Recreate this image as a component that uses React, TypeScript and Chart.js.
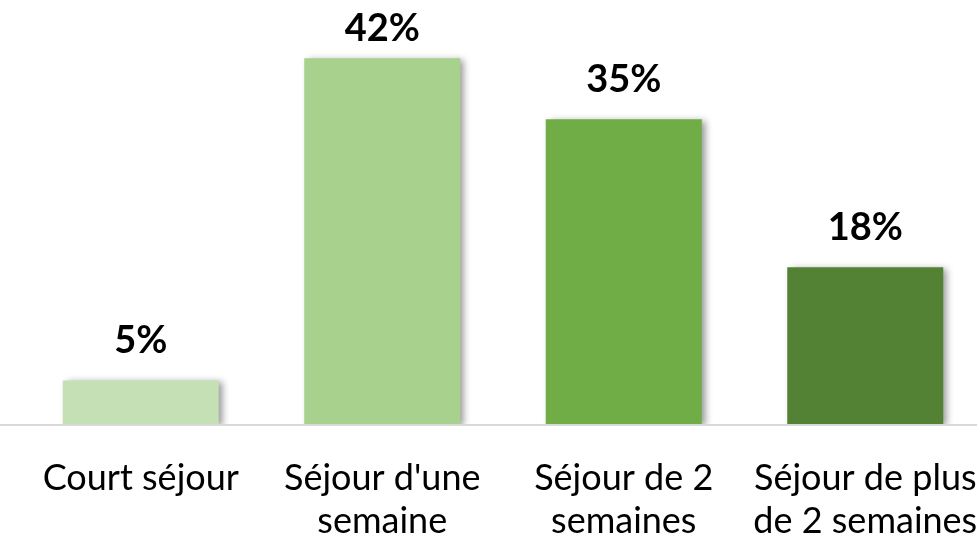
import React, { useEffect, useRef } from "react";
import { Chart, registerables } from "chart.js";

Chart.register(...registerables);

const categories: string[][] = [
  ["Court séjour"],
  ["Séjour d'une", "semaine"],
  ["Séjour de 2", "semaines"],
  ["Séjour de plus", "de 2 semaines"],
];
const values: number[] = [5, 42, 35, 18];
const barColors: string[] = ["#C5E0B4", "#A9D18E", "#70AD47", "#548235"];
const FONT = "Lato, 'Open Sans', sans-serif";

export default function App() {
  const ref = useRef<HTMLCanvasElement | null>(null);
  useEffect(() => {
    if (!ref.current) return;
    document.body.style.margin = "0";
    const shadowPlugin = {
      id: "barShadow",
      beforeDatasetsDraw(chart: any) {
        const ctx = chart.ctx;
        ctx.save();
        ctx.shadowColor = "rgba(0,0,0,0.4)";
        ctx.shadowBlur = 7;
        ctx.shadowOffsetX = 4;
        ctx.shadowOffsetY = 2;
      },
      afterDatasetsDraw(chart: any) {
        const ctx = chart.ctx;
        ctx.restore();
        const meta = chart.getDatasetMeta(0);
        ctx.save();
        ctx.font = `bold 38px ${FONT}`;
        ctx.fillStyle = "#000";
        ctx.textAlign = "center";
        ctx.textBaseline = "middle";
        meta.data.forEach((bar: any, i: number) => {
          const y = Math.max(bar.y - 40, 29);
          ctx.fillText(values[i] + "%", bar.x, y);
        });
        ctx.restore();
      },
    };
    const baselinePlugin = {
      id: "baseline",
      afterDraw(chart: any) {
        const ctx = chart.ctx;
        const y = chart.scales.y.getPixelForValue(0);
        ctx.save();
        ctx.strokeStyle = "#D9D9D9";
        ctx.lineWidth = 2;
        ctx.beginPath();
        ctx.moveTo(0, y + 1);
        ctx.lineTo(chart.width, y + 1);
        ctx.stroke();
        ctx.restore();
      },
    };
    const chart = new Chart(ref.current, {
      type: "bar",
      data: {
        labels: categories,
        datasets: [
          {
            data: values,
            backgroundColor: barColors,
            barPercentage: 0.646,
            categoryPercentage: 1,
          },
        ],
      },
      options: {
        animation: false,
        responsive: true,
        maintainAspectRatio: false,
        layout: { padding: { left: 20, right: 14, top: 0, bottom: 0 } },
        plugins: { legend: { display: false }, tooltip: { enabled: false } },
        scales: {
          y: { display: false, min: 0, max: 48.7 },
          x: {
            grid: { display: false },
            border: { display: false },
            afterFit(scale: any) {
              scale.height = 114;
              scale.paddingLeft = 0;
              scale.paddingRight = 0;
            },
            ticks: {
              color: "#000",
              autoSkip: false,
              maxRotation: 0,
              minRotation: 0,
              padding: 25,
              font: { family: FONT, size: 36, lineHeight: 1.2 },
            },
          },
        },
      },
      plugins: [shadowPlugin, baselinePlugin],
    });
    return () => chart.destroy();
  }, []);
  return (
    <div
      style={{
        position: "fixed",
        left: 0,
        top: 0,
        width: 977,
        height: 538,
        overflow: "hidden",
        background: "#fff",
      }}
    >
      <div style={{ position: "absolute", left: 0, top: 0, width: 1000, height: 538 }}>
        <canvas ref={ref} />
      </div>
    </div>
  );
}
